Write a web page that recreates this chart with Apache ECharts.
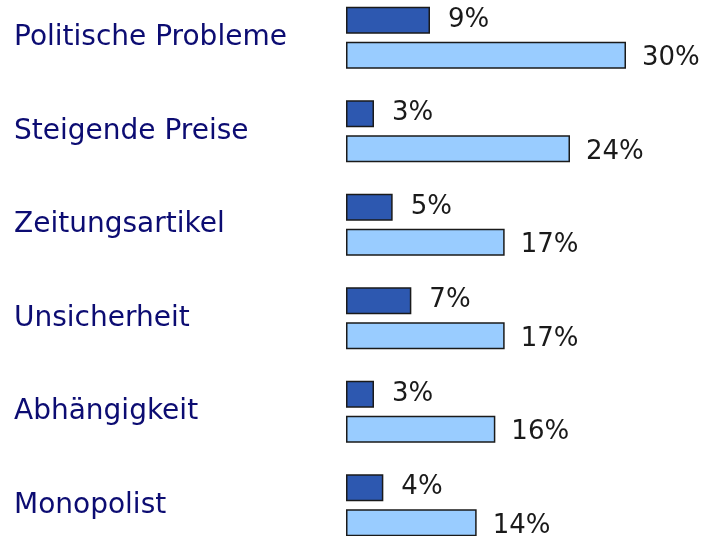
<!DOCTYPE html>
<html>
<head>
<meta charset="utf-8">
<script src="https://cdn.jsdelivr.net/npm/echarts@6/dist/echarts.min.js"></script>
<style>
  html, body { margin: 0; padding: 0; background: #ffffff; }
  #chart { width: 702px; height: 536px; }
</style>
</head>
<body>
<div id="chart"></div>
<script>
// Kategorien (von oben nach unten)
var categories = ['Politische Probleme', 'Steigende Preise', 'Zeitungsartikel', 'Unsicherheit', 'Abhängigkeit', 'Monopolist'];
// dunkle Balken (oben)
var darkValues = [9, 3, 5, 7, 3, 4];
// helle Balken (unten)
var lightValues = [30, 24, 17, 17, 16, 14];

var myChart = echarts.init(document.getElementById('chart'));

var fontFamily = '"DejaVu Sans", Verdana, sans-serif';

myChart.setOption({
  backgroundColor: '#ffffff',
  animation: false,
  grid: {
    left: 346,
    width: 280,
    top: -9,
    height: 561,
    outerBoundsMode: 'none'
  },
  xAxis: {
    type: 'value',
    min: 0,
    max: 30,
    show: false
  },
  yAxis: {
    type: 'category',
    inverse: true,
    data: categories,
    axisLine: { show: false },
    axisTick: { show: false },
    axisLabel: {
      align: 'left',
      margin: 332,
      color: '#0c0c72',
      fontSize: 28,
      fontFamily: fontFamily
    }
  },
  series: [
    {
      type: 'bar',
      data: darkValues,
      barWidth: 27,
      barGap: '30%',
      itemStyle: {
        color: '#2d58b0',
        borderColor: '#1a1a1a',
        borderWidth: 1.5
      },
      label: {
        show: true,
        position: 'right',
        distance: 18,
        formatter: '{c}%',
        color: '#1a1a1a',
        fontSize: 26,
        fontFamily: fontFamily
      }
    },
    {
      type: 'bar',
      data: lightValues,
      barWidth: 27,
      itemStyle: {
        color: '#99ccff',
        borderColor: '#1a1a1a',
        borderWidth: 1.5
      },
      label: {
        show: true,
        position: 'right',
        distance: 16,
        offset: [0, 3],
        formatter: '{c}%',
        color: '#1a1a1a',
        fontSize: 26,
        fontFamily: fontFamily
      }
    }
  ]
});
</script>
</body>
</html>
